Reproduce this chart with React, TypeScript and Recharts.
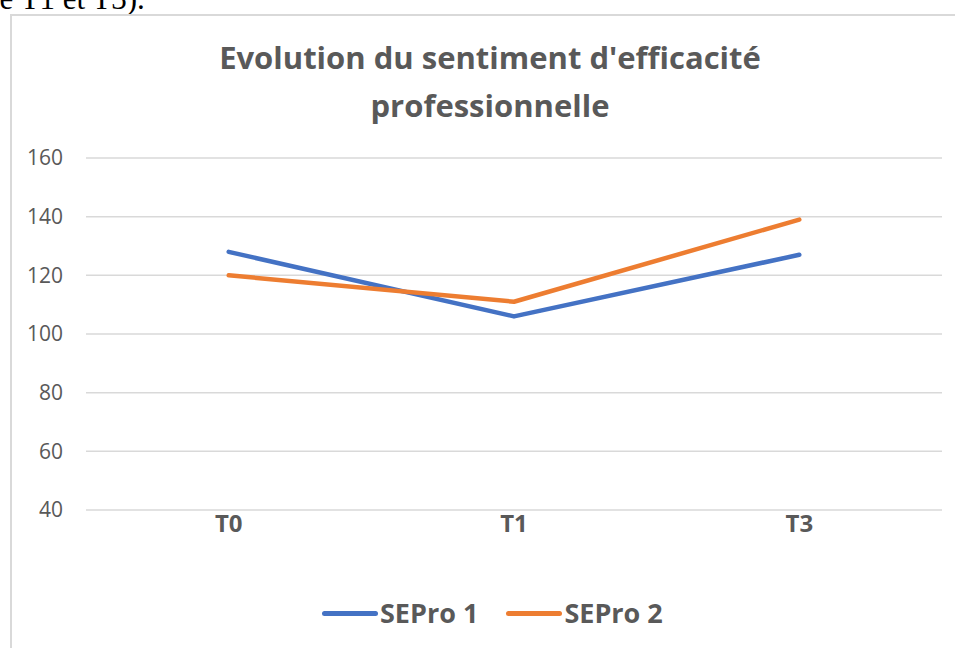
import { CartesianGrid, Line, LineChart, XAxis, YAxis } from "recharts";

// Data.
const periods = ["T0", "T1", "T3"];
const sepro1 = [128, 106, 127];
const sepro2 = [120, 111, 139];
const yTicks = [40, 60, 80, 100, 120, 140, 160];

const SERIES = [
  { key: "sepro1", name: "SEPro 1", color: "#4472C4" },
  { key: "sepro2", name: "SEPro 2", color: "#ED7D31" },
];

const data = periods.map((p, i) => ({ period: p, sepro1: sepro1[i], sepro2: sepro2[i] }));

const FONT = "'Open Sans', Lato, sans-serif";
const TEXT = "#595959";

export default function App() {
  return (
    <div
      style={{
        position: "absolute",
        left: 0,
        top: 0,
        width: 955,
        height: 648,
        overflow: "hidden",
        background: "#fff",
      }}
    >
      {/* cut-off line of the surrounding document */}
      <div
        style={{
          position: "absolute",
          left: -9,
          top: -16,
          fontFamily: "'Liberation Serif', serif",
          fontSize: 31,
          lineHeight: "30px",
          whiteSpace: "nowrap",
          color: "#000",
        }}
      >
        le T1 et T3).
      </div>

      {/* chart frame */}
      <div
        style={{
          position: "absolute",
          left: 10,
          top: 14,
          width: 962,
          height: 660,
          border: "2px solid #d9d9d9",
          boxSizing: "border-box",
        }}
      />

      <div
        style={{
          position: "absolute",
          left: 0,
          top: 33,
          width: 980,
          textAlign: "center",
          fontFamily: FONT,
          fontWeight: 700,
          fontSize: 31,
          lineHeight: "48px",
          color: TEXT,
        }}
      >
        Evolution du sentiment d'efficacité
        <br />
        professionnelle
      </div>

      <div style={{ position: "absolute", left: 0, top: 0 }}>
        <LineChart
          width={955}
          height={648}
          data={data}
          margin={{ top: 158, right: 13, bottom: 0, left: 0 }}
        >
          <CartesianGrid vertical={false} stroke="#d9d9d9" strokeWidth={1.5} />
          <XAxis
            dataKey="period"
            height={138}
            axisLine={false}
            tickLine={false}
            tickMargin={-1}
            padding={{ left: 142.7, right: 142.7 }}
            tick={{ fontSize: 24, fontWeight: 700, fill: TEXT, fontFamily: FONT }}
          />
          <YAxis
            width={86}
            domain={[40, 160]}
            ticks={yTicks}
            axisLine={false}
            tickLine={false}
            tickMargin={17}
            tick={{ fontSize: 21, fill: TEXT, fontFamily: FONT }}
          />
          {SERIES.map((s) => (
            <Line
              key={s.key}
              dataKey={s.key}
              name={s.name}
              stroke={s.color}
              strokeWidth={4.5}
              strokeLinecap="round"
              strokeLinejoin="round"
              dot={false}
              activeDot={false}
              isAnimationActive={false}
            />
          ))}
        </LineChart>
      </div>

      {/* legend */}
      <div
        style={{
          position: "absolute",
          left: 322,
          top: 597,
          display: "flex",
          alignItems: "center",
          fontFamily: FONT,
          fontWeight: 700,
          fontSize: 27,
          color: TEXT,
          lineHeight: "32px",
        }}
      >
        {SERIES.map((s, i) => (
          <div
            key={s.key}
            style={{ display: "flex", alignItems: "center", marginLeft: i ? 28 : 0 }}
          >
            <span
              style={{
                display: "inline-block",
                width: 56,
                height: 5,
                borderRadius: 3,
                background: s.color,
                marginRight: 2,
              }}
            />
            {s.name}
          </div>
        ))}
      </div>
    </div>
  );
}
